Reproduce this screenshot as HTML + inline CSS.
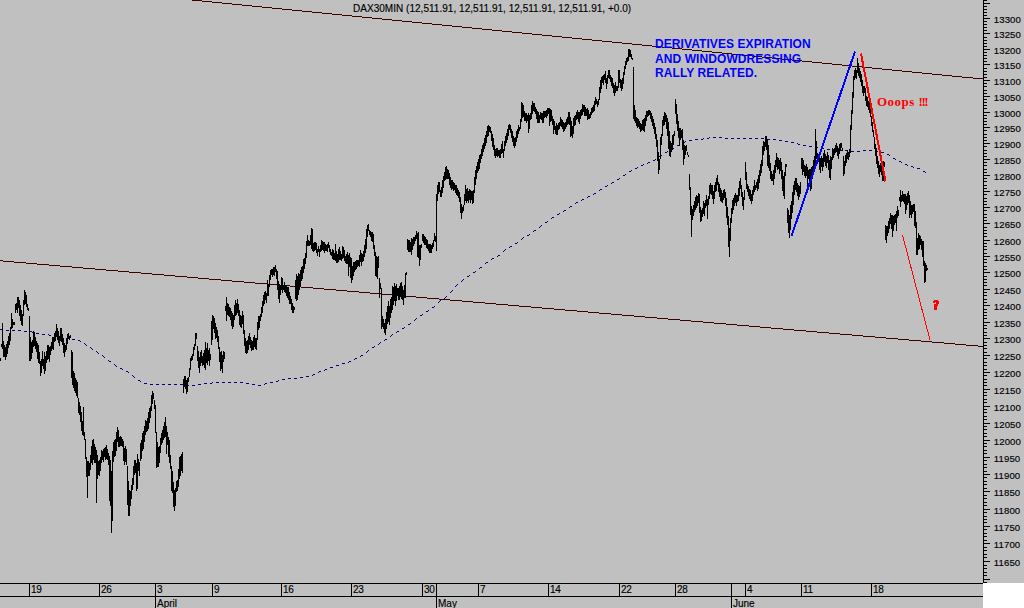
<!DOCTYPE html>
<html><head><meta charset="utf-8"><title>DAX30MIN</title>
<style>html,body{margin:0;padding:0;background:#c0c0c0;}body{width:1024px;height:608px;overflow:hidden;position:relative;font-family:"Liberation Sans",sans-serif;}</style>
</head><body>
<svg width="1024" height="608" viewBox="0 0 1024 608" style="position:absolute;left:0;top:0"><rect x="0" y="0" width="1024" height="608" fill="#c0c0c0"/><rect x="983" y="583" width="41" height="25" fill="#ffffff"/><g fill="#400000" shape-rendering="crispEdges"><rect x="192" y="0" width="10" height="1"/><rect x="202" y="1" width="10" height="1"/><rect x="212" y="2" width="10" height="1"/><rect x="222" y="3" width="10" height="1"/><rect x="232" y="4" width="10" height="1"/><rect x="242" y="5" width="10" height="1"/><rect x="252" y="6" width="10" height="1"/><rect x="262" y="7" width="10" height="1"/><rect x="272" y="8" width="10" height="1"/><rect x="282" y="9" width="10" height="1"/><rect x="292" y="10" width="10" height="1"/><rect x="302" y="11" width="10" height="1"/><rect x="312" y="12" width="10" height="1"/><rect x="322" y="13" width="10" height="1"/><rect x="332" y="14" width="10" height="1"/><rect x="342" y="15" width="10" height="1"/><rect x="352" y="16" width="10" height="1"/><rect x="362" y="17" width="10" height="1"/><rect x="372" y="18" width="10" height="1"/><rect x="382" y="19" width="10" height="1"/><rect x="392" y="20" width="10" height="1"/><rect x="402" y="21" width="10" height="1"/><rect x="412" y="22" width="10" height="1"/><rect x="422" y="23" width="10" height="1"/><rect x="432" y="24" width="10" height="1"/><rect x="442" y="25" width="10" height="1"/><rect x="452" y="26" width="10" height="1"/><rect x="462" y="27" width="10" height="1"/><rect x="472" y="28" width="10" height="1"/><rect x="482" y="29" width="10" height="1"/><rect x="492" y="30" width="10" height="1"/><rect x="502" y="31" width="10" height="1"/><rect x="512" y="32" width="10" height="1"/><rect x="522" y="33" width="10" height="1"/><rect x="532" y="34" width="10" height="1"/><rect x="542" y="35" width="10" height="1"/><rect x="552" y="36" width="10" height="1"/><rect x="562" y="37" width="10" height="1"/><rect x="572" y="38" width="10" height="1"/><rect x="582" y="39" width="10" height="1"/><rect x="592" y="40" width="10" height="1"/><rect x="602" y="41" width="10" height="1"/><rect x="612" y="42" width="10" height="1"/><rect x="622" y="43" width="10" height="1"/><rect x="632" y="44" width="10" height="1"/><rect x="642" y="45" width="10" height="1"/><rect x="652" y="46" width="10" height="1"/><rect x="662" y="47" width="10" height="1"/><rect x="672" y="48" width="10" height="1"/><rect x="682" y="49" width="10" height="1"/><rect x="692" y="50" width="10" height="1"/><rect x="702" y="51" width="10" height="1"/><rect x="712" y="52" width="10" height="1"/><rect x="722" y="53" width="10" height="1"/><rect x="732" y="54" width="10" height="1"/><rect x="742" y="55" width="10" height="1"/><rect x="752" y="56" width="10" height="1"/><rect x="762" y="57" width="10" height="1"/><rect x="772" y="58" width="10" height="1"/><rect x="782" y="59" width="10" height="1"/><rect x="792" y="60" width="10" height="1"/><rect x="802" y="61" width="10" height="1"/><rect x="812" y="62" width="10" height="1"/><rect x="822" y="63" width="10" height="1"/><rect x="832" y="64" width="10" height="1"/><rect x="842" y="65" width="10" height="1"/><rect x="852" y="66" width="10" height="1"/><rect x="862" y="67" width="10" height="1"/><rect x="872" y="68" width="10" height="1"/><rect x="882" y="69" width="10" height="1"/><rect x="892" y="70" width="10" height="1"/><rect x="902" y="71" width="10" height="1"/><rect x="912" y="72" width="10" height="1"/><rect x="922" y="73" width="10" height="1"/><rect x="932" y="74" width="10" height="1"/><rect x="942" y="75" width="10" height="1"/><rect x="952" y="76" width="10" height="1"/><rect x="962" y="77" width="11" height="1"/><rect x="973" y="78" width="10" height="1"/><rect x="0" y="260" width="3" height="1"/><rect x="3" y="261" width="11" height="1"/><rect x="14" y="262" width="12" height="1"/><rect x="26" y="263" width="11" height="1"/><rect x="37" y="264" width="12" height="1"/><rect x="49" y="265" width="11" height="1"/><rect x="60" y="266" width="12" height="1"/><rect x="72" y="267" width="11" height="1"/><rect x="83" y="268" width="12" height="1"/><rect x="95" y="269" width="11" height="1"/><rect x="106" y="270" width="12" height="1"/><rect x="118" y="271" width="11" height="1"/><rect x="129" y="272" width="12" height="1"/><rect x="141" y="273" width="11" height="1"/><rect x="152" y="274" width="12" height="1"/><rect x="164" y="275" width="11" height="1"/><rect x="175" y="276" width="12" height="1"/><rect x="187" y="277" width="11" height="1"/><rect x="198" y="278" width="11" height="1"/><rect x="209" y="279" width="12" height="1"/><rect x="221" y="280" width="11" height="1"/><rect x="232" y="281" width="12" height="1"/><rect x="244" y="282" width="11" height="1"/><rect x="255" y="283" width="12" height="1"/><rect x="267" y="284" width="11" height="1"/><rect x="278" y="285" width="12" height="1"/><rect x="290" y="286" width="11" height="1"/><rect x="301" y="287" width="12" height="1"/><rect x="313" y="288" width="11" height="1"/><rect x="324" y="289" width="12" height="1"/><rect x="336" y="290" width="11" height="1"/><rect x="347" y="291" width="12" height="1"/><rect x="359" y="292" width="11" height="1"/><rect x="370" y="293" width="12" height="1"/><rect x="382" y="294" width="11" height="1"/><rect x="393" y="295" width="11" height="1"/><rect x="404" y="296" width="12" height="1"/><rect x="416" y="297" width="11" height="1"/><rect x="427" y="298" width="12" height="1"/><rect x="439" y="299" width="11" height="1"/><rect x="450" y="300" width="12" height="1"/><rect x="462" y="301" width="11" height="1"/><rect x="473" y="302" width="12" height="1"/><rect x="485" y="303" width="11" height="1"/><rect x="496" y="304" width="12" height="1"/><rect x="508" y="305" width="11" height="1"/><rect x="519" y="306" width="12" height="1"/><rect x="531" y="307" width="11" height="1"/><rect x="542" y="308" width="12" height="1"/><rect x="554" y="309" width="11" height="1"/><rect x="565" y="310" width="12" height="1"/><rect x="577" y="311" width="11" height="1"/><rect x="588" y="312" width="11" height="1"/><rect x="599" y="313" width="12" height="1"/><rect x="611" y="314" width="11" height="1"/><rect x="622" y="315" width="12" height="1"/><rect x="634" y="316" width="11" height="1"/><rect x="645" y="317" width="12" height="1"/><rect x="657" y="318" width="11" height="1"/><rect x="668" y="319" width="12" height="1"/><rect x="680" y="320" width="11" height="1"/><rect x="691" y="321" width="12" height="1"/><rect x="703" y="322" width="11" height="1"/><rect x="714" y="323" width="12" height="1"/><rect x="726" y="324" width="11" height="1"/><rect x="737" y="325" width="12" height="1"/><rect x="749" y="326" width="11" height="1"/><rect x="760" y="327" width="11" height="1"/><rect x="771" y="328" width="12" height="1"/><rect x="783" y="329" width="11" height="1"/><rect x="794" y="330" width="12" height="1"/><rect x="806" y="331" width="11" height="1"/><rect x="817" y="332" width="12" height="1"/><rect x="829" y="333" width="11" height="1"/><rect x="840" y="334" width="12" height="1"/><rect x="852" y="335" width="11" height="1"/><rect x="863" y="336" width="12" height="1"/><rect x="875" y="337" width="11" height="1"/><rect x="886" y="338" width="12" height="1"/><rect x="898" y="339" width="11" height="1"/><rect x="909" y="340" width="12" height="1"/><rect x="921" y="341" width="11" height="1"/><rect x="932" y="342" width="12" height="1"/><rect x="944" y="343" width="11" height="1"/><rect x="955" y="344" width="11" height="1"/><rect x="966" y="345" width="12" height="1"/><rect x="978" y="346" width="5" height="1"/></g><g fill="#000080" shape-rendering="crispEdges"><rect x="0" y="329" width="1" height="1"/><rect x="1" y="329" width="1" height="1"/><rect x="2" y="329" width="1" height="1"/><rect x="6" y="330" width="1" height="1"/><rect x="7" y="330" width="1" height="1"/><rect x="8" y="330" width="1" height="1"/><rect x="12" y="330" width="1" height="1"/><rect x="13" y="330" width="1" height="1"/><rect x="14" y="330" width="1" height="1"/><rect x="18" y="330" width="1" height="1"/><rect x="19" y="330" width="1" height="1"/><rect x="20" y="330" width="1" height="1"/><rect x="24" y="331" width="1" height="1"/><rect x="25" y="331" width="1" height="1"/><rect x="26" y="331" width="1" height="1"/><rect x="30" y="331" width="1" height="1"/><rect x="31" y="331" width="1" height="1"/><rect x="32" y="332" width="1" height="1"/><rect x="36" y="333" width="1" height="1"/><rect x="37" y="333" width="1" height="1"/><rect x="38" y="333" width="1" height="1"/><rect x="42" y="334" width="1" height="1"/><rect x="43" y="334" width="1" height="1"/><rect x="44" y="334" width="1" height="1"/><rect x="48" y="334" width="1" height="1"/><rect x="49" y="335" width="1" height="1"/><rect x="50" y="335" width="1" height="1"/><rect x="54" y="335" width="1" height="1"/><rect x="55" y="335" width="1" height="1"/><rect x="56" y="335" width="1" height="1"/><rect x="60" y="336" width="1" height="1"/><rect x="61" y="336" width="1" height="1"/><rect x="62" y="337" width="1" height="1"/><rect x="66" y="338" width="1" height="1"/><rect x="67" y="338" width="1" height="1"/><rect x="68" y="338" width="1" height="1"/><rect x="72" y="339" width="1" height="1"/><rect x="73" y="339" width="1" height="1"/><rect x="74" y="339" width="1" height="1"/><rect x="78" y="340" width="1" height="1"/><rect x="79" y="340" width="1" height="1"/><rect x="80" y="341" width="1" height="1"/><rect x="84" y="343" width="1" height="1"/><rect x="85" y="344" width="1" height="1"/><rect x="86" y="345" width="1" height="1"/><rect x="90" y="347" width="1" height="1"/><rect x="91" y="348" width="1" height="1"/><rect x="92" y="349" width="1" height="1"/><rect x="96" y="351" width="1" height="1"/><rect x="97" y="352" width="1" height="1"/><rect x="98" y="353" width="1" height="1"/><rect x="102" y="355" width="1" height="1"/><rect x="103" y="356" width="1" height="1"/><rect x="104" y="357" width="1" height="1"/><rect x="108" y="360" width="1" height="1"/><rect x="109" y="361" width="1" height="1"/><rect x="110" y="361" width="1" height="1"/><rect x="114" y="364" width="1" height="1"/><rect x="115" y="365" width="1" height="1"/><rect x="116" y="366" width="1" height="1"/><rect x="120" y="368" width="1" height="1"/><rect x="121" y="368" width="1" height="1"/><rect x="122" y="369" width="1" height="1"/><rect x="126" y="371" width="1" height="1"/><rect x="127" y="371" width="1" height="1"/><rect x="128" y="372" width="1" height="1"/><rect x="132" y="375" width="1" height="1"/><rect x="133" y="376" width="1" height="1"/><rect x="134" y="377" width="1" height="1"/><rect x="138" y="380" width="1" height="1"/><rect x="139" y="380" width="1" height="1"/><rect x="140" y="381" width="1" height="1"/><rect x="144" y="383" width="1" height="1"/><rect x="145" y="383" width="1" height="1"/><rect x="146" y="383" width="1" height="1"/><rect x="150" y="384" width="1" height="1"/><rect x="151" y="384" width="1" height="1"/><rect x="152" y="384" width="1" height="1"/><rect x="156" y="384" width="1" height="1"/><rect x="157" y="384" width="1" height="1"/><rect x="158" y="384" width="1" height="1"/><rect x="162" y="384" width="1" height="1"/><rect x="163" y="384" width="1" height="1"/><rect x="164" y="384" width="1" height="1"/><rect x="168" y="384" width="1" height="1"/><rect x="169" y="384" width="1" height="1"/><rect x="170" y="384" width="1" height="1"/><rect x="174" y="384" width="1" height="1"/><rect x="175" y="384" width="1" height="1"/><rect x="176" y="384" width="1" height="1"/><rect x="180" y="384" width="1" height="1"/><rect x="181" y="384" width="1" height="1"/><rect x="182" y="384" width="1" height="1"/><rect x="186" y="385" width="1" height="1"/><rect x="187" y="385" width="1" height="1"/><rect x="188" y="385" width="1" height="1"/><rect x="192" y="385" width="1" height="1"/><rect x="193" y="385" width="1" height="1"/><rect x="194" y="385" width="1" height="1"/><rect x="198" y="384" width="1" height="1"/><rect x="199" y="384" width="1" height="1"/><rect x="200" y="384" width="1" height="1"/><rect x="204" y="383" width="1" height="1"/><rect x="205" y="383" width="1" height="1"/><rect x="206" y="383" width="1" height="1"/><rect x="210" y="383" width="1" height="1"/><rect x="211" y="383" width="1" height="1"/><rect x="212" y="382" width="1" height="1"/><rect x="216" y="382" width="1" height="1"/><rect x="217" y="382" width="1" height="1"/><rect x="218" y="382" width="1" height="1"/><rect x="222" y="382" width="1" height="1"/><rect x="223" y="382" width="1" height="1"/><rect x="224" y="382" width="1" height="1"/><rect x="228" y="382" width="1" height="1"/><rect x="229" y="382" width="1" height="1"/><rect x="230" y="382" width="1" height="1"/><rect x="234" y="382" width="1" height="1"/><rect x="235" y="382" width="1" height="1"/><rect x="236" y="382" width="1" height="1"/><rect x="240" y="382" width="1" height="1"/><rect x="241" y="382" width="1" height="1"/><rect x="242" y="382" width="1" height="1"/><rect x="246" y="383" width="1" height="1"/><rect x="247" y="383" width="1" height="1"/><rect x="248" y="383" width="1" height="1"/><rect x="252" y="384" width="1" height="1"/><rect x="253" y="384" width="1" height="1"/><rect x="254" y="384" width="1" height="1"/><rect x="258" y="385" width="1" height="1"/><rect x="259" y="385" width="1" height="1"/><rect x="260" y="385" width="1" height="1"/><rect x="264" y="384" width="1" height="1"/><rect x="265" y="383" width="1" height="1"/><rect x="266" y="383" width="1" height="1"/><rect x="270" y="382" width="1" height="1"/><rect x="271" y="382" width="1" height="1"/><rect x="272" y="382" width="1" height="1"/><rect x="276" y="381" width="1" height="1"/><rect x="277" y="381" width="1" height="1"/><rect x="278" y="380" width="1" height="1"/><rect x="282" y="379" width="1" height="1"/><rect x="283" y="379" width="1" height="1"/><rect x="284" y="379" width="1" height="1"/><rect x="288" y="378" width="1" height="1"/><rect x="289" y="378" width="1" height="1"/><rect x="290" y="378" width="1" height="1"/><rect x="294" y="378" width="1" height="1"/><rect x="295" y="378" width="1" height="1"/><rect x="296" y="378" width="1" height="1"/><rect x="300" y="377" width="1" height="1"/><rect x="301" y="377" width="1" height="1"/><rect x="302" y="377" width="1" height="1"/><rect x="306" y="376" width="1" height="1"/><rect x="307" y="376" width="1" height="1"/><rect x="308" y="376" width="1" height="1"/><rect x="312" y="375" width="1" height="1"/><rect x="313" y="374" width="1" height="1"/><rect x="314" y="374" width="1" height="1"/><rect x="318" y="372" width="1" height="1"/><rect x="319" y="371" width="1" height="1"/><rect x="320" y="371" width="1" height="1"/><rect x="324" y="370" width="1" height="1"/><rect x="325" y="369" width="1" height="1"/><rect x="326" y="369" width="1" height="1"/><rect x="330" y="367" width="1" height="1"/><rect x="331" y="367" width="1" height="1"/><rect x="332" y="367" width="1" height="1"/><rect x="336" y="365" width="1" height="1"/><rect x="337" y="365" width="1" height="1"/><rect x="338" y="365" width="1" height="1"/><rect x="342" y="363" width="1" height="1"/><rect x="343" y="363" width="1" height="1"/><rect x="344" y="363" width="1" height="1"/><rect x="348" y="362" width="1" height="1"/><rect x="349" y="361" width="1" height="1"/><rect x="350" y="361" width="1" height="1"/><rect x="354" y="359" width="1" height="1"/><rect x="355" y="358" width="1" height="1"/><rect x="356" y="358" width="1" height="1"/><rect x="360" y="356" width="1" height="1"/><rect x="361" y="355" width="1" height="1"/><rect x="362" y="355" width="1" height="1"/><rect x="366" y="352" width="1" height="1"/><rect x="367" y="351" width="1" height="1"/><rect x="368" y="350" width="1" height="1"/><rect x="372" y="347" width="1" height="1"/><rect x="373" y="347" width="1" height="1"/><rect x="374" y="346" width="1" height="1"/><rect x="378" y="344" width="1" height="1"/><rect x="379" y="343" width="1" height="1"/><rect x="380" y="342" width="1" height="1"/><rect x="384" y="340" width="1" height="1"/><rect x="385" y="339" width="1" height="1"/><rect x="386" y="339" width="1" height="1"/><rect x="390" y="336" width="1" height="1"/><rect x="391" y="335" width="1" height="1"/><rect x="392" y="334" width="1" height="1"/><rect x="396" y="332" width="1" height="1"/><rect x="397" y="331" width="1" height="1"/><rect x="398" y="331" width="1" height="1"/><rect x="402" y="328" width="1" height="1"/><rect x="403" y="328" width="1" height="1"/><rect x="404" y="327" width="1" height="1"/><rect x="408" y="324" width="1" height="1"/><rect x="409" y="324" width="1" height="1"/><rect x="410" y="323" width="1" height="1"/><rect x="414" y="320" width="1" height="1"/><rect x="415" y="319" width="1" height="1"/><rect x="416" y="318" width="1" height="1"/><rect x="420" y="315" width="1" height="1"/><rect x="421" y="315" width="1" height="1"/><rect x="422" y="314" width="1" height="1"/><rect x="426" y="311" width="1" height="1"/><rect x="427" y="311" width="1" height="1"/><rect x="428" y="310" width="1" height="1"/><rect x="432" y="307" width="1" height="1"/><rect x="433" y="307" width="1" height="1"/><rect x="434" y="306" width="1" height="1"/><rect x="438" y="302" width="1" height="1"/><rect x="439" y="301" width="1" height="1"/><rect x="440" y="300" width="1" height="1"/><rect x="444" y="298" width="1" height="1"/><rect x="445" y="297" width="1" height="1"/><rect x="446" y="296" width="1" height="1"/><rect x="450" y="292" width="1" height="1"/><rect x="451" y="291" width="1" height="1"/><rect x="452" y="290" width="1" height="1"/><rect x="455" y="286" width="1" height="1"/><rect x="456" y="285" width="1" height="1"/><rect x="457" y="284" width="1" height="1"/><rect x="461" y="281" width="1" height="1"/><rect x="462" y="280" width="1" height="1"/><rect x="463" y="279" width="1" height="1"/><rect x="467" y="276" width="1" height="1"/><rect x="468" y="276" width="1" height="1"/><rect x="469" y="275" width="1" height="1"/><rect x="473" y="272" width="1" height="1"/><rect x="474" y="272" width="1" height="1"/><rect x="475" y="271" width="1" height="1"/><rect x="479" y="268" width="1" height="1"/><rect x="480" y="267" width="1" height="1"/><rect x="481" y="267" width="1" height="1"/><rect x="485" y="263" width="1" height="1"/><rect x="486" y="262" width="1" height="1"/><rect x="487" y="262" width="1" height="1"/><rect x="491" y="259" width="1" height="1"/><rect x="492" y="258" width="1" height="1"/><rect x="493" y="258" width="1" height="1"/><rect x="497" y="256" width="1" height="1"/><rect x="498" y="255" width="1" height="1"/><rect x="499" y="255" width="1" height="1"/><rect x="503" y="251" width="1" height="1"/><rect x="504" y="250" width="1" height="1"/><rect x="505" y="249" width="1" height="1"/><rect x="509" y="247" width="1" height="1"/><rect x="510" y="246" width="1" height="1"/><rect x="511" y="246" width="1" height="1"/><rect x="515" y="243" width="1" height="1"/><rect x="516" y="243" width="1" height="1"/><rect x="517" y="242" width="1" height="1"/><rect x="521" y="239" width="1" height="1"/><rect x="522" y="238" width="1" height="1"/><rect x="523" y="237" width="1" height="1"/><rect x="527" y="235" width="1" height="1"/><rect x="528" y="235" width="1" height="1"/><rect x="529" y="234" width="1" height="1"/><rect x="533" y="231" width="1" height="1"/><rect x="534" y="230" width="1" height="1"/><rect x="535" y="230" width="1" height="1"/><rect x="539" y="227" width="1" height="1"/><rect x="540" y="226" width="1" height="1"/><rect x="541" y="225" width="1" height="1"/><rect x="545" y="222" width="1" height="1"/><rect x="546" y="222" width="1" height="1"/><rect x="547" y="221" width="1" height="1"/><rect x="551" y="218" width="1" height="1"/><rect x="552" y="217" width="1" height="1"/><rect x="553" y="217" width="1" height="1"/><rect x="557" y="214" width="1" height="1"/><rect x="558" y="214" width="1" height="1"/><rect x="559" y="213" width="1" height="1"/><rect x="563" y="211" width="1" height="1"/><rect x="564" y="210" width="1" height="1"/><rect x="565" y="210" width="1" height="1"/><rect x="569" y="207" width="1" height="1"/><rect x="570" y="206" width="1" height="1"/><rect x="571" y="206" width="1" height="1"/><rect x="575" y="203" width="1" height="1"/><rect x="576" y="202" width="1" height="1"/><rect x="577" y="202" width="1" height="1"/><rect x="581" y="200" width="1" height="1"/><rect x="582" y="199" width="1" height="1"/><rect x="583" y="199" width="1" height="1"/><rect x="587" y="197" width="1" height="1"/><rect x="588" y="196" width="1" height="1"/><rect x="589" y="196" width="1" height="1"/><rect x="593" y="194" width="1" height="1"/><rect x="594" y="193" width="1" height="1"/><rect x="595" y="193" width="1" height="1"/><rect x="599" y="190" width="1" height="1"/><rect x="600" y="189" width="1" height="1"/><rect x="601" y="189" width="1" height="1"/><rect x="605" y="186" width="1" height="1"/><rect x="606" y="186" width="1" height="1"/><rect x="607" y="185" width="1" height="1"/><rect x="611" y="183" width="1" height="1"/><rect x="612" y="182" width="1" height="1"/><rect x="613" y="182" width="1" height="1"/><rect x="617" y="179" width="1" height="1"/><rect x="618" y="179" width="1" height="1"/><rect x="619" y="178" width="1" height="1"/><rect x="623" y="175" width="1" height="1"/><rect x="624" y="175" width="1" height="1"/><rect x="625" y="174" width="1" height="1"/><rect x="629" y="171" width="1" height="1"/><rect x="630" y="171" width="1" height="1"/><rect x="631" y="170" width="1" height="1"/><rect x="635" y="168" width="1" height="1"/><rect x="636" y="168" width="1" height="1"/><rect x="637" y="167" width="1" height="1"/><rect x="641" y="165" width="1" height="1"/><rect x="642" y="165" width="1" height="1"/><rect x="643" y="164" width="1" height="1"/><rect x="647" y="163" width="1" height="1"/><rect x="648" y="162" width="1" height="1"/><rect x="649" y="162" width="1" height="1"/><rect x="653" y="160" width="1" height="1"/><rect x="654" y="160" width="1" height="1"/><rect x="655" y="159" width="1" height="1"/><rect x="659" y="156" width="1" height="1"/><rect x="660" y="155" width="1" height="1"/><rect x="661" y="155" width="1" height="1"/><rect x="665" y="152" width="1" height="1"/><rect x="666" y="152" width="1" height="1"/><rect x="667" y="151" width="1" height="1"/><rect x="671" y="149" width="1" height="1"/><rect x="672" y="148" width="1" height="1"/><rect x="673" y="148" width="1" height="1"/><rect x="677" y="145" width="1" height="1"/><rect x="678" y="145" width="1" height="1"/><rect x="679" y="144" width="1" height="1"/><rect x="683" y="142" width="1" height="1"/><rect x="684" y="142" width="1" height="1"/><rect x="685" y="141" width="1" height="1"/><rect x="689" y="140" width="1" height="1"/><rect x="690" y="140" width="1" height="1"/><rect x="691" y="140" width="1" height="1"/><rect x="695" y="139" width="1" height="1"/><rect x="696" y="139" width="1" height="1"/><rect x="697" y="139" width="1" height="1"/><rect x="701" y="139" width="1" height="1"/><rect x="702" y="139" width="1" height="1"/><rect x="703" y="138" width="1" height="1"/><rect x="707" y="138" width="1" height="1"/><rect x="708" y="138" width="1" height="1"/><rect x="709" y="137" width="1" height="1"/><rect x="713" y="137" width="1" height="1"/><rect x="714" y="137" width="1" height="1"/><rect x="715" y="137" width="1" height="1"/><rect x="719" y="137" width="1" height="1"/><rect x="720" y="137" width="1" height="1"/><rect x="721" y="137" width="1" height="1"/><rect x="725" y="138" width="1" height="1"/><rect x="726" y="138" width="1" height="1"/><rect x="727" y="138" width="1" height="1"/><rect x="731" y="138" width="1" height="1"/><rect x="732" y="138" width="1" height="1"/><rect x="733" y="138" width="1" height="1"/><rect x="737" y="138" width="1" height="1"/><rect x="738" y="138" width="1" height="1"/><rect x="739" y="138" width="1" height="1"/><rect x="743" y="138" width="1" height="1"/><rect x="744" y="138" width="1" height="1"/><rect x="745" y="138" width="1" height="1"/><rect x="749" y="138" width="1" height="1"/><rect x="750" y="138" width="1" height="1"/><rect x="751" y="138" width="1" height="1"/><rect x="755" y="138" width="1" height="1"/><rect x="756" y="138" width="1" height="1"/><rect x="757" y="138" width="1" height="1"/><rect x="761" y="138" width="1" height="1"/><rect x="762" y="138" width="1" height="1"/><rect x="763" y="138" width="1" height="1"/><rect x="767" y="139" width="1" height="1"/><rect x="768" y="139" width="1" height="1"/><rect x="769" y="139" width="1" height="1"/><rect x="773" y="139" width="1" height="1"/><rect x="774" y="139" width="1" height="1"/><rect x="775" y="139" width="1" height="1"/><rect x="779" y="140" width="1" height="1"/><rect x="780" y="140" width="1" height="1"/><rect x="781" y="140" width="1" height="1"/><rect x="785" y="141" width="1" height="1"/><rect x="786" y="141" width="1" height="1"/><rect x="787" y="141" width="1" height="1"/><rect x="791" y="142" width="1" height="1"/><rect x="792" y="142" width="1" height="1"/><rect x="793" y="142" width="1" height="1"/><rect x="797" y="143" width="1" height="1"/><rect x="798" y="144" width="1" height="1"/><rect x="799" y="144" width="1" height="1"/><rect x="803" y="145" width="1" height="1"/><rect x="804" y="145" width="1" height="1"/><rect x="805" y="145" width="1" height="1"/><rect x="809" y="146" width="1" height="1"/><rect x="810" y="146" width="1" height="1"/><rect x="811" y="146" width="1" height="1"/><rect x="815" y="147" width="1" height="1"/><rect x="816" y="147" width="1" height="1"/><rect x="817" y="147" width="1" height="1"/><rect x="821" y="148" width="1" height="1"/><rect x="822" y="148" width="1" height="1"/><rect x="823" y="148" width="1" height="1"/><rect x="827" y="149" width="1" height="1"/><rect x="828" y="149" width="1" height="1"/><rect x="829" y="149" width="1" height="1"/><rect x="833" y="149" width="1" height="1"/><rect x="834" y="149" width="1" height="1"/><rect x="835" y="150" width="1" height="1"/><rect x="839" y="150" width="1" height="1"/><rect x="840" y="150" width="1" height="1"/><rect x="841" y="150" width="1" height="1"/><rect x="845" y="150" width="1" height="1"/><rect x="846" y="150" width="1" height="1"/><rect x="847" y="150" width="1" height="1"/><rect x="851" y="151" width="1" height="1"/><rect x="852" y="151" width="1" height="1"/><rect x="853" y="151" width="1" height="1"/><rect x="857" y="151" width="1" height="1"/><rect x="858" y="151" width="1" height="1"/><rect x="859" y="151" width="1" height="1"/><rect x="863" y="150" width="1" height="1"/><rect x="864" y="150" width="1" height="1"/><rect x="865" y="150" width="1" height="1"/><rect x="869" y="150" width="1" height="1"/><rect x="870" y="150" width="1" height="1"/><rect x="871" y="150" width="1" height="1"/><rect x="875" y="151" width="1" height="1"/><rect x="876" y="151" width="1" height="1"/><rect x="877" y="151" width="1" height="1"/><rect x="881" y="152" width="1" height="1"/><rect x="882" y="152" width="1" height="1"/><rect x="883" y="152" width="1" height="1"/><rect x="887" y="154" width="1" height="1"/><rect x="888" y="154" width="1" height="1"/><rect x="889" y="155" width="1" height="1"/><rect x="893" y="158" width="1" height="1"/><rect x="894" y="158" width="1" height="1"/><rect x="895" y="159" width="1" height="1"/><rect x="899" y="161" width="1" height="1"/><rect x="900" y="161" width="1" height="1"/><rect x="901" y="162" width="1" height="1"/><rect x="905" y="164" width="1" height="1"/><rect x="906" y="164" width="1" height="1"/><rect x="907" y="165" width="1" height="1"/><rect x="911" y="166" width="1" height="1"/><rect x="912" y="166" width="1" height="1"/><rect x="913" y="167" width="1" height="1"/><rect x="917" y="168" width="1" height="1"/><rect x="918" y="168" width="1" height="1"/><rect x="919" y="168" width="1" height="1"/><rect x="923" y="171" width="1" height="1"/><rect x="924" y="171" width="1" height="1"/><rect x="925" y="172" width="1" height="1"/></g><g fill="#000000" shape-rendering="crispEdges"><rect x="0" y="358" width="1" height="3"/><rect x="1" y="344" width="1" height="3"/><rect x="2" y="323" width="1" height="26"/><rect x="3" y="341" width="1" height="16"/><rect x="4" y="345" width="1" height="12"/><rect x="5" y="347" width="1" height="13"/><rect x="6" y="344" width="1" height="13"/><rect x="7" y="341" width="1" height="13"/><rect x="8" y="336" width="1" height="12"/><rect x="9" y="333" width="1" height="12"/><rect x="10" y="327" width="1" height="14"/><rect x="11" y="313" width="1" height="16"/><rect x="12" y="319" width="1" height="9"/><rect x="13" y="322" width="1" height="3"/><rect x="14" y="322" width="1" height="3"/><rect x="15" y="304" width="1" height="9"/><rect x="16" y="303" width="1" height="7"/><rect x="17" y="297" width="1" height="16"/><rect x="18" y="297" width="1" height="11"/><rect x="19" y="300" width="1" height="16"/><rect x="20" y="305" width="1" height="16"/><rect x="21" y="310" width="1" height="15"/><rect x="22" y="314" width="1" height="12"/><rect x="23" y="300" width="1" height="16"/><rect x="24" y="290" width="1" height="15"/><rect x="25" y="292" width="1" height="12"/><rect x="26" y="295" width="1" height="12"/><rect x="27" y="304" width="1" height="6"/><rect x="28" y="308" width="1" height="3"/><rect x="29" y="316" width="1" height="45"/><rect x="30" y="337" width="1" height="24"/><rect x="31" y="342" width="1" height="17"/><rect x="32" y="340" width="1" height="13"/><rect x="33" y="331" width="1" height="16"/><rect x="34" y="332" width="1" height="14"/><rect x="35" y="337" width="1" height="12"/><rect x="36" y="341" width="1" height="11"/><rect x="37" y="343" width="1" height="16"/><rect x="38" y="345" width="1" height="18"/><rect x="39" y="352" width="1" height="12"/><rect x="40" y="361" width="1" height="15"/><rect x="41" y="359" width="1" height="14"/><rect x="42" y="351" width="1" height="15"/><rect x="43" y="359" width="1" height="10"/><rect x="44" y="352" width="1" height="22"/><rect x="45" y="356" width="1" height="15"/><rect x="46" y="351" width="1" height="12"/><rect x="47" y="345" width="1" height="15"/><rect x="48" y="345" width="1" height="14"/><rect x="49" y="347" width="1" height="15"/><rect x="50" y="346" width="1" height="9"/><rect x="51" y="342" width="1" height="9"/><rect x="52" y="337" width="1" height="12"/><rect x="53" y="337" width="1" height="13"/><rect x="54" y="333" width="1" height="9"/><rect x="55" y="331" width="1" height="10"/><rect x="56" y="324" width="1" height="13"/><rect x="57" y="328" width="1" height="12"/><rect x="58" y="331" width="1" height="12"/><rect x="59" y="336" width="1" height="10"/><rect x="60" y="328" width="1" height="13"/><rect x="61" y="328" width="1" height="14"/><rect x="62" y="334" width="1" height="11"/><rect x="63" y="338" width="1" height="15"/><rect x="64" y="343" width="1" height="14"/><rect x="65" y="345" width="1" height="7"/><rect x="66" y="339" width="1" height="11"/><rect x="67" y="334" width="1" height="10"/><rect x="68" y="333" width="1" height="5"/><rect x="69" y="336" width="1" height="4"/><rect x="70" y="335" width="1" height="3"/><rect x="71" y="350" width="1" height="28"/><rect x="72" y="352" width="1" height="33"/><rect x="73" y="371" width="1" height="17"/><rect x="74" y="373" width="1" height="18"/><rect x="75" y="378" width="1" height="15"/><rect x="76" y="380" width="1" height="16"/><rect x="77" y="382" width="1" height="16"/><rect x="78" y="398" width="1" height="15"/><rect x="79" y="402" width="1" height="13"/><rect x="80" y="406" width="1" height="16"/><rect x="81" y="412" width="1" height="19"/><rect x="82" y="421" width="1" height="14"/><rect x="83" y="407" width="1" height="29"/><rect x="84" y="432" width="1" height="8"/><rect x="85" y="439" width="1" height="20"/><rect x="86" y="457" width="1" height="20"/><rect x="87" y="461" width="1" height="37"/><rect x="88" y="461" width="1" height="15"/><rect x="89" y="463" width="1" height="13"/><rect x="90" y="455" width="1" height="15"/><rect x="91" y="446" width="1" height="17"/><rect x="92" y="440" width="1" height="25"/><rect x="93" y="439" width="1" height="21"/><rect x="94" y="444" width="1" height="19"/><rect x="95" y="447" width="1" height="16"/><rect x="96" y="450" width="1" height="53"/><rect x="97" y="455" width="1" height="24"/><rect x="98" y="461" width="1" height="14"/><rect x="99" y="460" width="1" height="16"/><rect x="100" y="457" width="1" height="14"/><rect x="101" y="450" width="1" height="13"/><rect x="102" y="451" width="1" height="9"/><rect x="103" y="449" width="1" height="13"/><rect x="104" y="448" width="1" height="9"/><rect x="105" y="447" width="1" height="13"/><rect x="106" y="445" width="1" height="14"/><rect x="107" y="449" width="1" height="11"/><rect x="108" y="453" width="1" height="12"/><rect x="109" y="456" width="1" height="45"/><rect x="110" y="460" width="1" height="46"/><rect x="111" y="471" width="1" height="62"/><rect x="112" y="451" width="1" height="70"/><rect x="113" y="442" width="1" height="20"/><rect x="114" y="440" width="1" height="17"/><rect x="115" y="439" width="1" height="17"/><rect x="116" y="432" width="1" height="19"/><rect x="117" y="427" width="1" height="15"/><rect x="118" y="430" width="1" height="17"/><rect x="119" y="437" width="1" height="10"/><rect x="120" y="436" width="1" height="10"/><rect x="121" y="437" width="1" height="9"/><rect x="122" y="439" width="1" height="8"/><rect x="123" y="441" width="1" height="20"/><rect x="124" y="448" width="1" height="17"/><rect x="125" y="446" width="1" height="16"/><rect x="126" y="449" width="1" height="16"/><rect x="127" y="466" width="1" height="39"/><rect x="128" y="481" width="1" height="35"/><rect x="129" y="490" width="1" height="26"/><rect x="130" y="491" width="1" height="15"/><rect x="131" y="485" width="1" height="14"/><rect x="132" y="478" width="1" height="12"/><rect x="133" y="466" width="1" height="19"/><rect x="134" y="460" width="1" height="15"/><rect x="135" y="460" width="1" height="13"/><rect x="136" y="463" width="1" height="28"/><rect x="137" y="454" width="1" height="35"/><rect x="138" y="459" width="1" height="12"/><rect x="139" y="462" width="1" height="14"/><rect x="140" y="443" width="1" height="18"/><rect x="141" y="440" width="1" height="19"/><rect x="142" y="433" width="1" height="18"/><rect x="143" y="431" width="1" height="18"/><rect x="144" y="426" width="1" height="16"/><rect x="145" y="420" width="1" height="15"/><rect x="146" y="421" width="1" height="11"/><rect x="147" y="418" width="1" height="13"/><rect x="148" y="412" width="1" height="17"/><rect x="149" y="408" width="1" height="15"/><rect x="150" y="406" width="1" height="12"/><rect x="151" y="395" width="1" height="16"/><rect x="152" y="391" width="1" height="13"/><rect x="153" y="393" width="1" height="6"/><rect x="154" y="400" width="1" height="9"/><rect x="155" y="405" width="1" height="28"/><rect x="156" y="432" width="1" height="36"/><rect x="157" y="442" width="1" height="25"/><rect x="158" y="447" width="1" height="20"/><rect x="159" y="446" width="1" height="17"/><rect x="160" y="438" width="1" height="15"/><rect x="161" y="433" width="1" height="12"/><rect x="162" y="430" width="1" height="13"/><rect x="163" y="426" width="1" height="14"/><rect x="164" y="422" width="1" height="16"/><rect x="165" y="417" width="1" height="20"/><rect x="166" y="426" width="1" height="28"/><rect x="167" y="432" width="1" height="13"/><rect x="168" y="437" width="1" height="20"/><rect x="169" y="440" width="1" height="23"/><rect x="170" y="455" width="1" height="14"/><rect x="171" y="466" width="1" height="25"/><rect x="172" y="471" width="1" height="22"/><rect x="173" y="482" width="1" height="25"/><rect x="174" y="490" width="1" height="21"/><rect x="175" y="488" width="1" height="18"/><rect x="176" y="481" width="1" height="11"/><rect x="177" y="480" width="1" height="11"/><rect x="178" y="469" width="1" height="18"/><rect x="179" y="457" width="1" height="22"/><rect x="180" y="456" width="1" height="20"/><rect x="181" y="454" width="1" height="17"/><rect x="182" y="452" width="1" height="21"/><rect x="183" y="379" width="1" height="14"/><rect x="184" y="376" width="1" height="11"/><rect x="185" y="376" width="1" height="13"/><rect x="186" y="380" width="1" height="14"/><rect x="187" y="378" width="1" height="14"/><rect x="188" y="377" width="1" height="5"/><rect x="189" y="368" width="1" height="9"/><rect x="190" y="358" width="1" height="12"/><rect x="191" y="356" width="1" height="5"/><rect x="192" y="354" width="1" height="6"/><rect x="193" y="347" width="1" height="9"/><rect x="194" y="344" width="1" height="6"/><rect x="195" y="333" width="1" height="13"/><rect x="196" y="333" width="1" height="6"/><rect x="197" y="346" width="1" height="15"/><rect x="198" y="351" width="1" height="17"/><rect x="199" y="357" width="1" height="16"/><rect x="200" y="352" width="1" height="14"/><rect x="201" y="350" width="1" height="13"/><rect x="202" y="356" width="1" height="10"/><rect x="203" y="353" width="1" height="12"/><rect x="204" y="350" width="1" height="18"/><rect x="205" y="342" width="1" height="28"/><rect x="206" y="348" width="1" height="15"/><rect x="207" y="343" width="1" height="22"/><rect x="208" y="350" width="1" height="11"/><rect x="209" y="348" width="1" height="18"/><rect x="210" y="354" width="1" height="6"/><rect x="211" y="321" width="1" height="24"/><rect x="212" y="315" width="1" height="25"/><rect x="213" y="316" width="1" height="13"/><rect x="214" y="318" width="1" height="15"/><rect x="215" y="323" width="1" height="16"/><rect x="216" y="327" width="1" height="11"/><rect x="217" y="330" width="1" height="12"/><rect x="218" y="336" width="1" height="13"/><rect x="219" y="347" width="1" height="15"/><rect x="220" y="352" width="1" height="19"/><rect x="221" y="351" width="1" height="18"/><rect x="222" y="355" width="1" height="18"/><rect x="223" y="351" width="1" height="11"/><rect x="224" y="352" width="1" height="7"/><rect x="225" y="306" width="1" height="5"/><rect x="226" y="297" width="1" height="24"/><rect x="227" y="303" width="1" height="12"/><rect x="228" y="304" width="1" height="12"/><rect x="229" y="307" width="1" height="10"/><rect x="230" y="308" width="1" height="12"/><rect x="231" y="311" width="1" height="15"/><rect x="232" y="313" width="1" height="16"/><rect x="233" y="315" width="1" height="12"/><rect x="234" y="305" width="1" height="15"/><rect x="235" y="300" width="1" height="16"/><rect x="236" y="303" width="1" height="12"/><rect x="237" y="299" width="1" height="14"/><rect x="238" y="304" width="1" height="12"/><rect x="239" y="310" width="1" height="15"/><rect x="240" y="315" width="1" height="12"/><rect x="241" y="316" width="1" height="12"/><rect x="242" y="311" width="1" height="13"/><rect x="243" y="315" width="1" height="19"/><rect x="244" y="330" width="1" height="16"/><rect x="245" y="338" width="1" height="15"/><rect x="246" y="341" width="1" height="13"/><rect x="247" y="340" width="1" height="13"/><rect x="248" y="336" width="1" height="14"/><rect x="249" y="333" width="1" height="12"/><rect x="250" y="337" width="1" height="11"/><rect x="251" y="340" width="1" height="11"/><rect x="252" y="341" width="1" height="9"/><rect x="253" y="337" width="1" height="13"/><rect x="254" y="335" width="1" height="12"/><rect x="255" y="338" width="1" height="11"/><rect x="256" y="338" width="1" height="12"/><rect x="257" y="322" width="1" height="18"/><rect x="258" y="316" width="1" height="14"/><rect x="259" y="316" width="1" height="12"/><rect x="260" y="314" width="1" height="7"/><rect x="261" y="307" width="1" height="10"/><rect x="262" y="301" width="1" height="12"/><rect x="263" y="295" width="1" height="11"/><rect x="264" y="292" width="1" height="12"/><rect x="265" y="291" width="1" height="9"/><rect x="266" y="293" width="1" height="10"/><rect x="267" y="280" width="1" height="16"/><rect x="268" y="284" width="1" height="12"/><rect x="269" y="275" width="1" height="12"/><rect x="270" y="270" width="1" height="10"/><rect x="271" y="269" width="1" height="6"/><rect x="272" y="269" width="1" height="8"/><rect x="273" y="267" width="1" height="8"/><rect x="274" y="267" width="1" height="9"/><rect x="275" y="265" width="1" height="7"/><rect x="276" y="269" width="1" height="10"/><rect x="277" y="271" width="1" height="19"/><rect x="278" y="281" width="1" height="18"/><rect x="279" y="284" width="1" height="19"/><rect x="280" y="285" width="1" height="10"/><rect x="281" y="277" width="1" height="13"/><rect x="282" y="278" width="1" height="15"/><rect x="283" y="285" width="1" height="5"/><rect x="284" y="282" width="1" height="10"/><rect x="285" y="285" width="1" height="8"/><rect x="286" y="285" width="1" height="11"/><rect x="287" y="287" width="1" height="11"/><rect x="288" y="287" width="1" height="13"/><rect x="289" y="292" width="1" height="12"/><rect x="290" y="296" width="1" height="8"/><rect x="291" y="299" width="1" height="11"/><rect x="292" y="303" width="1" height="10"/><rect x="293" y="306" width="1" height="7"/><rect x="294" y="307" width="1" height="3"/><rect x="295" y="280" width="1" height="19"/><rect x="296" y="274" width="1" height="27"/><rect x="297" y="276" width="1" height="24"/><rect x="298" y="273" width="1" height="22"/><rect x="299" y="274" width="1" height="16"/><rect x="300" y="270" width="1" height="16"/><rect x="301" y="267" width="1" height="14"/><rect x="302" y="266" width="1" height="13"/><rect x="303" y="259" width="1" height="14"/><rect x="304" y="258" width="1" height="11"/><rect x="305" y="253" width="1" height="11"/><rect x="306" y="241" width="1" height="17"/><rect x="307" y="235" width="1" height="11"/><rect x="308" y="240" width="1" height="6"/><rect x="309" y="241" width="1" height="5"/><rect x="310" y="235" width="1" height="10"/><rect x="311" y="228" width="1" height="21"/><rect x="312" y="229" width="1" height="22"/><rect x="313" y="243" width="1" height="9"/><rect x="314" y="242" width="1" height="9"/><rect x="315" y="242" width="1" height="8"/><rect x="316" y="243" width="1" height="10"/><rect x="317" y="249" width="1" height="7"/><rect x="318" y="246" width="1" height="6"/><rect x="319" y="249" width="1" height="8"/><rect x="320" y="245" width="1" height="7"/><rect x="321" y="240" width="1" height="11"/><rect x="322" y="241" width="1" height="9"/><rect x="323" y="242" width="1" height="9"/><rect x="324" y="242" width="1" height="11"/><rect x="325" y="244" width="1" height="7"/><rect x="326" y="245" width="1" height="6"/><rect x="327" y="244" width="1" height="8"/><rect x="328" y="242" width="1" height="6"/><rect x="329" y="245" width="1" height="7"/><rect x="330" y="249" width="1" height="6"/><rect x="331" y="252" width="1" height="4"/><rect x="332" y="249" width="1" height="10"/><rect x="333" y="250" width="1" height="10"/><rect x="334" y="253" width="1" height="7"/><rect x="335" y="244" width="1" height="17"/><rect x="336" y="251" width="1" height="12"/><rect x="337" y="254" width="1" height="9"/><rect x="338" y="249" width="1" height="13"/><rect x="339" y="247" width="1" height="13"/><rect x="340" y="251" width="1" height="9"/><rect x="341" y="254" width="1" height="7"/><rect x="342" y="246" width="1" height="13"/><rect x="343" y="247" width="1" height="11"/><rect x="344" y="250" width="1" height="11"/><rect x="345" y="256" width="1" height="7"/><rect x="346" y="254" width="1" height="10"/><rect x="347" y="252" width="1" height="12"/><rect x="348" y="255" width="1" height="21"/><rect x="349" y="253" width="1" height="14"/><rect x="350" y="257" width="1" height="21"/><rect x="351" y="258" width="1" height="25"/><rect x="352" y="266" width="1" height="14"/><rect x="353" y="262" width="1" height="14"/><rect x="354" y="262" width="1" height="10"/><rect x="355" y="261" width="1" height="9"/><rect x="356" y="260" width="1" height="9"/><rect x="357" y="260" width="1" height="7"/><rect x="358" y="260" width="1" height="6"/><rect x="359" y="255" width="1" height="12"/><rect x="360" y="250" width="1" height="12"/><rect x="361" y="253" width="1" height="13"/><rect x="362" y="254" width="1" height="8"/><rect x="363" y="251" width="1" height="10"/><rect x="364" y="245" width="1" height="12"/><rect x="365" y="239" width="1" height="14"/><rect x="366" y="229" width="1" height="20"/><rect x="367" y="225" width="1" height="12"/><rect x="368" y="224" width="1" height="7"/><rect x="369" y="230" width="1" height="5"/><rect x="370" y="231" width="1" height="6"/><rect x="371" y="232" width="1" height="9"/><rect x="372" y="232" width="1" height="10"/><rect x="373" y="234" width="1" height="15"/><rect x="374" y="245" width="1" height="11"/><rect x="375" y="252" width="1" height="24"/><rect x="376" y="256" width="1" height="21"/><rect x="377" y="257" width="1" height="22"/><rect x="378" y="256" width="1" height="12"/><rect x="379" y="278" width="1" height="20"/><rect x="380" y="283" width="1" height="6"/><rect x="381" y="288" width="1" height="41"/><rect x="382" y="316" width="1" height="11"/><rect x="383" y="319" width="1" height="10"/><rect x="384" y="323" width="1" height="10"/><rect x="385" y="319" width="1" height="16"/><rect x="386" y="312" width="1" height="17"/><rect x="387" y="306" width="1" height="18"/><rect x="388" y="301" width="1" height="21"/><rect x="389" y="306" width="1" height="19"/><rect x="390" y="299" width="1" height="19"/><rect x="391" y="297" width="1" height="16"/><rect x="392" y="286" width="1" height="24"/><rect x="393" y="287" width="1" height="18"/><rect x="394" y="283" width="1" height="18"/><rect x="395" y="286" width="1" height="20"/><rect x="396" y="284" width="1" height="17"/><rect x="397" y="288" width="1" height="7"/><rect x="398" y="288" width="1" height="12"/><rect x="399" y="286" width="1" height="14"/><rect x="400" y="283" width="1" height="14"/><rect x="401" y="282" width="1" height="17"/><rect x="402" y="286" width="1" height="14"/><rect x="403" y="290" width="1" height="15"/><rect x="404" y="285" width="1" height="13"/><rect x="405" y="273" width="1" height="25"/><rect x="406" y="272" width="1" height="3"/><rect x="407" y="239" width="1" height="11"/><rect x="408" y="240" width="1" height="12"/><rect x="409" y="240" width="1" height="12"/><rect x="410" y="242" width="1" height="10"/><rect x="411" y="238" width="1" height="17"/><rect x="412" y="239" width="1" height="11"/><rect x="413" y="237" width="1" height="9"/><rect x="414" y="237" width="1" height="7"/><rect x="415" y="235" width="1" height="6"/><rect x="416" y="231" width="1" height="8"/><rect x="417" y="233" width="1" height="24"/><rect x="418" y="232" width="1" height="26"/><rect x="419" y="245" width="1" height="21"/><rect x="420" y="245" width="1" height="15"/><rect x="421" y="244" width="1" height="4"/><rect x="422" y="234" width="1" height="7"/><rect x="423" y="234" width="1" height="9"/><rect x="424" y="236" width="1" height="9"/><rect x="425" y="237" width="1" height="8"/><rect x="426" y="239" width="1" height="9"/><rect x="427" y="240" width="1" height="9"/><rect x="428" y="244" width="1" height="7"/><rect x="429" y="244" width="1" height="9"/><rect x="430" y="244" width="1" height="9"/><rect x="431" y="245" width="1" height="8"/><rect x="432" y="243" width="1" height="6"/><rect x="433" y="240" width="1" height="7"/><rect x="434" y="233" width="1" height="8"/><rect x="435" y="236" width="1" height="6"/><rect x="436" y="194" width="1" height="57"/><rect x="437" y="185" width="1" height="16"/><rect x="438" y="182" width="1" height="12"/><rect x="439" y="182" width="1" height="10"/><rect x="440" y="190" width="1" height="7"/><rect x="441" y="187" width="1" height="10"/><rect x="442" y="180" width="1" height="13"/><rect x="443" y="176" width="1" height="12"/><rect x="444" y="172" width="1" height="9"/><rect x="445" y="167" width="1" height="13"/><rect x="446" y="166" width="1" height="13"/><rect x="447" y="169" width="1" height="10"/><rect x="448" y="170" width="1" height="9"/><rect x="449" y="173" width="1" height="12"/><rect x="450" y="177" width="1" height="11"/><rect x="451" y="180" width="1" height="10"/><rect x="452" y="180" width="1" height="9"/><rect x="453" y="182" width="1" height="9"/><rect x="454" y="183" width="1" height="7"/><rect x="455" y="185" width="1" height="8"/><rect x="456" y="185" width="1" height="10"/><rect x="457" y="188" width="1" height="8"/><rect x="458" y="190" width="1" height="8"/><rect x="459" y="192" width="1" height="10"/><rect x="460" y="197" width="1" height="16"/><rect x="461" y="204" width="1" height="15"/><rect x="462" y="207" width="1" height="6"/><rect x="463" y="205" width="1" height="6"/><rect x="464" y="194" width="1" height="11"/><rect x="465" y="185" width="1" height="16"/><rect x="466" y="189" width="1" height="14"/><rect x="467" y="188" width="1" height="13"/><rect x="468" y="191" width="1" height="12"/><rect x="469" y="189" width="1" height="11"/><rect x="470" y="190" width="1" height="13"/><rect x="471" y="191" width="1" height="9"/><rect x="472" y="191" width="1" height="13"/><rect x="473" y="190" width="1" height="13"/><rect x="474" y="177" width="1" height="16"/><rect x="475" y="170" width="1" height="15"/><rect x="476" y="166" width="1" height="13"/><rect x="477" y="162" width="1" height="11"/><rect x="478" y="159" width="1" height="12"/><rect x="479" y="155" width="1" height="14"/><rect x="480" y="154" width="1" height="9"/><rect x="481" y="149" width="1" height="10"/><rect x="482" y="145" width="1" height="11"/><rect x="483" y="143" width="1" height="9"/><rect x="484" y="138" width="1" height="11"/><rect x="485" y="135" width="1" height="11"/><rect x="486" y="131" width="1" height="12"/><rect x="487" y="126" width="1" height="11"/><rect x="488" y="125" width="1" height="11"/><rect x="489" y="126" width="1" height="6"/><rect x="490" y="127" width="1" height="6"/><rect x="491" y="131" width="1" height="10"/><rect x="492" y="134" width="1" height="13"/><rect x="493" y="138" width="1" height="12"/><rect x="494" y="145" width="1" height="11"/><rect x="495" y="149" width="1" height="9"/><rect x="496" y="148" width="1" height="8"/><rect x="497" y="148" width="1" height="9"/><rect x="498" y="150" width="1" height="6"/><rect x="499" y="150" width="1" height="8"/><rect x="500" y="149" width="1" height="9"/><rect x="501" y="144" width="1" height="10"/><rect x="502" y="141" width="1" height="12"/><rect x="503" y="149" width="1" height="9"/><rect x="504" y="141" width="1" height="10"/><rect x="505" y="136" width="1" height="10"/><rect x="506" y="133" width="1" height="10"/><rect x="507" y="129" width="1" height="11"/><rect x="508" y="125" width="1" height="11"/><rect x="509" y="124" width="1" height="6"/><rect x="510" y="125" width="1" height="8"/><rect x="511" y="129" width="1" height="9"/><rect x="512" y="131" width="1" height="11"/><rect x="513" y="136" width="1" height="10"/><rect x="514" y="138" width="1" height="10"/><rect x="515" y="137" width="1" height="9"/><rect x="516" y="131" width="1" height="11"/><rect x="517" y="129" width="1" height="9"/><rect x="518" y="125" width="1" height="9"/><rect x="519" y="127" width="1" height="4"/><rect x="520" y="119" width="1" height="10"/><rect x="521" y="102" width="1" height="20"/><rect x="522" y="103" width="1" height="15"/><rect x="523" y="105" width="1" height="12"/><rect x="524" y="111" width="1" height="10"/><rect x="525" y="113" width="1" height="8"/><rect x="526" y="113" width="1" height="10"/><rect x="527" y="115" width="1" height="6"/><rect x="528" y="113" width="1" height="20"/><rect x="529" y="115" width="1" height="14"/><rect x="530" y="113" width="1" height="7"/><rect x="531" y="105" width="1" height="14"/><rect x="532" y="101" width="1" height="13"/><rect x="533" y="103" width="1" height="8"/><rect x="534" y="103" width="1" height="9"/><rect x="535" y="107" width="1" height="7"/><rect x="536" y="109" width="1" height="10"/><rect x="537" y="111" width="1" height="12"/><rect x="538" y="112" width="1" height="11"/><rect x="539" y="115" width="1" height="8"/><rect x="540" y="112" width="1" height="7"/><rect x="541" y="113" width="1" height="7"/><rect x="542" y="113" width="1" height="10"/><rect x="543" y="111" width="1" height="12"/><rect x="544" y="111" width="1" height="7"/><rect x="545" y="111" width="1" height="6"/><rect x="546" y="110" width="1" height="8"/><rect x="547" y="108" width="1" height="8"/><rect x="548" y="108" width="1" height="6"/><rect x="549" y="108" width="1" height="18"/><rect x="550" y="109" width="1" height="13"/><rect x="551" y="110" width="1" height="11"/><rect x="552" y="116" width="1" height="9"/><rect x="553" y="119" width="1" height="15"/><rect x="554" y="121" width="1" height="9"/><rect x="555" y="126" width="1" height="8"/><rect x="556" y="123" width="1" height="12"/><rect x="557" y="125" width="1" height="10"/><rect x="558" y="123" width="1" height="7"/><rect x="559" y="122" width="1" height="7"/><rect x="560" y="117" width="1" height="9"/><rect x="561" y="119" width="1" height="8"/><rect x="562" y="120" width="1" height="9"/><rect x="563" y="122" width="1" height="10"/><rect x="564" y="123" width="1" height="8"/><rect x="565" y="122" width="1" height="7"/><rect x="566" y="119" width="1" height="8"/><rect x="567" y="117" width="1" height="8"/><rect x="568" y="112" width="1" height="12"/><rect x="569" y="112" width="1" height="13"/><rect x="570" y="117" width="1" height="20"/><rect x="571" y="121" width="1" height="15"/><rect x="572" y="126" width="1" height="12"/><rect x="573" y="118" width="1" height="16"/><rect x="574" y="116" width="1" height="10"/><rect x="575" y="115" width="1" height="10"/><rect x="576" y="112" width="1" height="8"/><rect x="577" y="110" width="1" height="9"/><rect x="578" y="112" width="1" height="10"/><rect x="579" y="112" width="1" height="12"/><rect x="580" y="110" width="1" height="9"/><rect x="581" y="109" width="1" height="7"/><rect x="582" y="104" width="1" height="11"/><rect x="583" y="105" width="1" height="7"/><rect x="584" y="105" width="1" height="11"/><rect x="585" y="107" width="1" height="9"/><rect x="586" y="109" width="1" height="7"/><rect x="587" y="108" width="1" height="12"/><rect x="588" y="110" width="1" height="9"/><rect x="589" y="114" width="1" height="5"/><rect x="590" y="112" width="1" height="6"/><rect x="591" y="108" width="1" height="7"/><rect x="592" y="107" width="1" height="6"/><rect x="593" y="105" width="1" height="7"/><rect x="594" y="101" width="1" height="10"/><rect x="595" y="97" width="1" height="8"/><rect x="596" y="99" width="1" height="5"/><rect x="597" y="101" width="1" height="6"/><rect x="598" y="99" width="1" height="6"/><rect x="599" y="87" width="1" height="13"/><rect x="600" y="80" width="1" height="13"/><rect x="601" y="77" width="1" height="12"/><rect x="602" y="76" width="1" height="7"/><rect x="603" y="75" width="1" height="10"/><rect x="604" y="74" width="1" height="6"/><rect x="605" y="71" width="1" height="12"/><rect x="606" y="78" width="1" height="11"/><rect x="607" y="75" width="1" height="9"/><rect x="608" y="70" width="1" height="8"/><rect x="609" y="70" width="1" height="9"/><rect x="610" y="75" width="1" height="7"/><rect x="611" y="77" width="1" height="9"/><rect x="612" y="78" width="1" height="10"/><rect x="613" y="83" width="1" height="10"/><rect x="614" y="85" width="1" height="11"/><rect x="615" y="82" width="1" height="11"/><rect x="616" y="86" width="1" height="5"/><rect x="617" y="86" width="1" height="5"/><rect x="618" y="70" width="1" height="18"/><rect x="619" y="70" width="1" height="13"/><rect x="620" y="79" width="1" height="9"/><rect x="621" y="80" width="1" height="11"/><rect x="622" y="78" width="1" height="11"/><rect x="623" y="72" width="1" height="12"/><rect x="624" y="66" width="1" height="9"/><rect x="625" y="61" width="1" height="8"/><rect x="626" y="58" width="1" height="7"/><rect x="627" y="57" width="1" height="5"/><rect x="628" y="49" width="1" height="12"/><rect x="629" y="49" width="1" height="8"/><rect x="630" y="50" width="1" height="7"/><rect x="631" y="54" width="1" height="5"/><rect x="632" y="58" width="1" height="2"/><rect x="633" y="67" width="1" height="52"/><rect x="634" y="105" width="1" height="16"/><rect x="635" y="110" width="1" height="13"/><rect x="636" y="117" width="1" height="9"/><rect x="637" y="118" width="1" height="10"/><rect x="638" y="119" width="1" height="8"/><rect x="639" y="121" width="1" height="8"/><rect x="640" y="123" width="1" height="9"/><rect x="641" y="124" width="1" height="7"/><rect x="642" y="120" width="1" height="10"/><rect x="643" y="119" width="1" height="12"/><rect x="644" y="118" width="1" height="14"/><rect x="645" y="115" width="1" height="11"/><rect x="646" y="111" width="1" height="10"/><rect x="647" y="111" width="1" height="6"/><rect x="648" y="110" width="1" height="6"/><rect x="649" y="110" width="1" height="5"/><rect x="650" y="111" width="1" height="8"/><rect x="651" y="113" width="1" height="9"/><rect x="652" y="116" width="1" height="10"/><rect x="653" y="119" width="1" height="10"/><rect x="654" y="123" width="1" height="11"/><rect x="655" y="127" width="1" height="12"/><rect x="656" y="134" width="1" height="13"/><rect x="657" y="140" width="1" height="21"/><rect x="658" y="152" width="1" height="22"/><rect x="659" y="159" width="1" height="11"/><rect x="660" y="137" width="1" height="22"/><rect x="661" y="134" width="1" height="11"/><rect x="662" y="120" width="1" height="16"/><rect x="663" y="116" width="1" height="10"/><rect x="664" y="112" width="1" height="13"/><rect x="665" y="113" width="1" height="9"/><rect x="666" y="115" width="1" height="14"/><rect x="667" y="118" width="1" height="18"/><rect x="668" y="122" width="1" height="27"/><rect x="669" y="131" width="1" height="25"/><rect x="670" y="141" width="1" height="16"/><rect x="671" y="143" width="1" height="9"/><rect x="672" y="135" width="1" height="15"/><rect x="673" y="134" width="1" height="11"/><rect x="674" y="131" width="1" height="5"/><rect x="675" y="99" width="1" height="15"/><rect x="676" y="104" width="1" height="20"/><rect x="677" y="114" width="1" height="17"/><rect x="678" y="121" width="1" height="17"/><rect x="679" y="128" width="1" height="18"/><rect x="680" y="128" width="1" height="12"/><rect x="681" y="130" width="1" height="8"/><rect x="682" y="129" width="1" height="21"/><rect x="683" y="140" width="1" height="25"/><rect x="684" y="145" width="1" height="14"/><rect x="685" y="146" width="1" height="9"/><rect x="686" y="145" width="1" height="6"/><rect x="687" y="152" width="1" height="3"/><rect x="688" y="155" width="1" height="2"/><rect x="689" y="174" width="1" height="16"/><rect x="690" y="187" width="1" height="28"/><rect x="691" y="206" width="1" height="31"/><rect x="692" y="209" width="1" height="11"/><rect x="693" y="205" width="1" height="11"/><rect x="694" y="201" width="1" height="11"/><rect x="695" y="197" width="1" height="13"/><rect x="696" y="195" width="1" height="13"/><rect x="697" y="196" width="1" height="10"/><rect x="698" y="193" width="1" height="10"/><rect x="699" y="194" width="1" height="19"/><rect x="700" y="207" width="1" height="15"/><rect x="701" y="210" width="1" height="11"/><rect x="702" y="208" width="1" height="9"/><rect x="703" y="201" width="1" height="13"/><rect x="704" y="203" width="1" height="13"/><rect x="705" y="200" width="1" height="8"/><rect x="706" y="195" width="1" height="11"/><rect x="707" y="199" width="1" height="20"/><rect x="708" y="196" width="1" height="9"/><rect x="709" y="185" width="1" height="14"/><rect x="710" y="183" width="1" height="11"/><rect x="711" y="185" width="1" height="10"/><rect x="712" y="185" width="1" height="14"/><rect x="713" y="191" width="1" height="13"/><rect x="714" y="185" width="1" height="14"/><rect x="715" y="182" width="1" height="10"/><rect x="716" y="178" width="1" height="13"/><rect x="717" y="175" width="1" height="10"/><rect x="718" y="182" width="1" height="10"/><rect x="719" y="184" width="1" height="13"/><rect x="720" y="188" width="1" height="13"/><rect x="721" y="190" width="1" height="12"/><rect x="722" y="193" width="1" height="10"/><rect x="723" y="190" width="1" height="10"/><rect x="724" y="189" width="1" height="9"/><rect x="725" y="192" width="1" height="14"/><rect x="726" y="198" width="1" height="20"/><rect x="727" y="207" width="1" height="18"/><rect x="728" y="216" width="1" height="31"/><rect x="729" y="228" width="1" height="29"/><rect x="730" y="218" width="1" height="23"/><rect x="731" y="208" width="1" height="15"/><rect x="732" y="200" width="1" height="14"/><rect x="733" y="198" width="1" height="12"/><rect x="734" y="195" width="1" height="11"/><rect x="735" y="193" width="1" height="10"/><rect x="736" y="195" width="1" height="11"/><rect x="737" y="195" width="1" height="7"/><rect x="738" y="188" width="1" height="13"/><rect x="739" y="181" width="1" height="15"/><rect x="740" y="178" width="1" height="11"/><rect x="741" y="185" width="1" height="12"/><rect x="742" y="192" width="1" height="14"/><rect x="743" y="197" width="1" height="13"/><rect x="744" y="190" width="1" height="10"/><rect x="745" y="162" width="1" height="18"/><rect x="746" y="172" width="1" height="17"/><rect x="747" y="184" width="1" height="8"/><rect x="748" y="186" width="1" height="10"/><rect x="749" y="189" width="1" height="10"/><rect x="750" y="190" width="1" height="11"/><rect x="751" y="194" width="1" height="10"/><rect x="752" y="190" width="1" height="11"/><rect x="753" y="186" width="1" height="9"/><rect x="754" y="180" width="1" height="12"/><rect x="755" y="185" width="1" height="5"/><rect x="756" y="182" width="1" height="6"/><rect x="757" y="179" width="1" height="12"/><rect x="758" y="175" width="1" height="14"/><rect x="759" y="170" width="1" height="13"/><rect x="760" y="164" width="1" height="12"/><rect x="761" y="160" width="1" height="13"/><rect x="762" y="146" width="1" height="20"/><rect x="763" y="141" width="1" height="14"/><rect x="764" y="142" width="1" height="9"/><rect x="765" y="136" width="1" height="11"/><rect x="766" y="136" width="1" height="14"/><rect x="767" y="140" width="1" height="26"/><rect x="768" y="145" width="1" height="23"/><rect x="769" y="155" width="1" height="16"/><rect x="770" y="163" width="1" height="16"/><rect x="771" y="171" width="1" height="10"/><rect x="772" y="174" width="1" height="7"/><rect x="773" y="170" width="1" height="15"/><rect x="774" y="165" width="1" height="14"/><rect x="775" y="160" width="1" height="13"/><rect x="776" y="153" width="1" height="14"/><rect x="777" y="157" width="1" height="13"/><rect x="778" y="158" width="1" height="11"/><rect x="779" y="160" width="1" height="14"/><rect x="780" y="158" width="1" height="13"/><rect x="781" y="162" width="1" height="17"/><rect x="782" y="170" width="1" height="21"/><rect x="783" y="176" width="1" height="20"/><rect x="784" y="172" width="1" height="27"/><rect x="785" y="164" width="1" height="12"/><rect x="786" y="164" width="1" height="3"/><rect x="787" y="208" width="1" height="15"/><rect x="788" y="210" width="1" height="23"/><rect x="789" y="215" width="1" height="23"/><rect x="790" y="205" width="1" height="25"/><rect x="791" y="201" width="1" height="18"/><rect x="792" y="192" width="1" height="21"/><rect x="793" y="185" width="1" height="20"/><rect x="794" y="181" width="1" height="14"/><rect x="795" y="178" width="1" height="12"/><rect x="796" y="178" width="1" height="14"/><rect x="797" y="183" width="1" height="13"/><rect x="798" y="185" width="1" height="15"/><rect x="799" y="186" width="1" height="11"/><rect x="800" y="182" width="1" height="12"/><rect x="801" y="158" width="1" height="11"/><rect x="802" y="158" width="1" height="17"/><rect x="803" y="160" width="1" height="12"/><rect x="804" y="165" width="1" height="11"/><rect x="805" y="166" width="1" height="12"/><rect x="806" y="164" width="1" height="12"/><rect x="807" y="167" width="1" height="19"/><rect x="808" y="170" width="1" height="9"/><rect x="809" y="169" width="1" height="12"/><rect x="810" y="169" width="1" height="22"/><rect x="811" y="167" width="1" height="22"/><rect x="812" y="166" width="1" height="13"/><rect x="813" y="160" width="1" height="12"/><rect x="814" y="156" width="1" height="13"/><rect x="815" y="129" width="1" height="34"/><rect x="816" y="141" width="1" height="18"/><rect x="817" y="153" width="1" height="11"/><rect x="818" y="156" width="1" height="6"/><rect x="819" y="158" width="1" height="12"/><rect x="820" y="158" width="1" height="15"/><rect x="821" y="156" width="1" height="11"/><rect x="822" y="158" width="1" height="13"/><rect x="823" y="153" width="1" height="14"/><rect x="824" y="150" width="1" height="12"/><rect x="825" y="154" width="1" height="12"/><rect x="826" y="156" width="1" height="12"/><rect x="827" y="152" width="1" height="11"/><rect x="828" y="155" width="1" height="15"/><rect x="829" y="160" width="1" height="18"/><rect x="830" y="156" width="1" height="24"/><rect x="831" y="157" width="1" height="12"/><rect x="832" y="148" width="1" height="12"/><rect x="833" y="150" width="1" height="8"/><rect x="834" y="148" width="1" height="7"/><rect x="835" y="145" width="1" height="8"/><rect x="836" y="143" width="1" height="9"/><rect x="837" y="146" width="1" height="10"/><rect x="838" y="148" width="1" height="11"/><rect x="839" y="144" width="1" height="10"/><rect x="840" y="143" width="1" height="8"/><rect x="841" y="143" width="1" height="5"/><rect x="842" y="148" width="1" height="3"/><rect x="843" y="156" width="1" height="20"/><rect x="844" y="161" width="1" height="13"/><rect x="845" y="155" width="1" height="11"/><rect x="846" y="153" width="1" height="10"/><rect x="847" y="150" width="1" height="9"/><rect x="848" y="152" width="1" height="8"/><rect x="849" y="149" width="1" height="8"/><rect x="850" y="125" width="1" height="28"/><rect x="851" y="110" width="1" height="20"/><rect x="852" y="92" width="1" height="22"/><rect x="853" y="76" width="1" height="22"/><rect x="854" y="70" width="1" height="10"/><rect x="855" y="68" width="1" height="10"/><rect x="856" y="70" width="1" height="9"/><rect x="857" y="58" width="1" height="15"/><rect x="858" y="63" width="1" height="13"/><rect x="859" y="68" width="1" height="10"/><rect x="860" y="71" width="1" height="11"/><rect x="861" y="74" width="1" height="12"/><rect x="862" y="80" width="1" height="13"/><rect x="863" y="86" width="1" height="10"/><rect x="864" y="86" width="1" height="7"/><rect x="865" y="88" width="1" height="13"/><rect x="866" y="96" width="1" height="10"/><rect x="867" y="97" width="1" height="10"/><rect x="868" y="101" width="1" height="9"/><rect x="869" y="103" width="1" height="10"/><rect x="870" y="109" width="1" height="8"/><rect x="871" y="116" width="1" height="10"/><rect x="872" y="122" width="1" height="10"/><rect x="873" y="130" width="1" height="7"/><rect x="874" y="137" width="1" height="12"/><rect x="875" y="144" width="1" height="12"/><rect x="876" y="148" width="1" height="16"/><rect x="877" y="156" width="1" height="12"/><rect x="878" y="161" width="1" height="13"/><rect x="879" y="165" width="1" height="12"/><rect x="880" y="163" width="1" height="9"/><rect x="881" y="166" width="1" height="9"/><rect x="882" y="169" width="1" height="12"/><rect x="883" y="161" width="1" height="20"/><rect x="884" y="162" width="1" height="5"/><rect x="885" y="225" width="1" height="15"/><rect x="886" y="226" width="1" height="17"/><rect x="887" y="226" width="1" height="10"/><rect x="888" y="221" width="1" height="12"/><rect x="889" y="218" width="1" height="11"/><rect x="890" y="213" width="1" height="11"/><rect x="891" y="215" width="1" height="14"/><rect x="892" y="215" width="1" height="22"/><rect x="893" y="216" width="1" height="15"/><rect x="894" y="215" width="1" height="10"/><rect x="895" y="214" width="1" height="9"/><rect x="896" y="211" width="1" height="20"/><rect x="897" y="206" width="1" height="12"/><rect x="898" y="210" width="1" height="6"/><rect x="899" y="197" width="1" height="4"/><rect x="900" y="190" width="1" height="17"/><rect x="901" y="195" width="1" height="7"/><rect x="902" y="191" width="1" height="10"/><rect x="903" y="194" width="1" height="8"/><rect x="904" y="194" width="1" height="10"/><rect x="905" y="194" width="1" height="20"/><rect x="906" y="196" width="1" height="14"/><rect x="907" y="193" width="1" height="12"/><rect x="908" y="191" width="1" height="12"/><rect x="909" y="195" width="1" height="23"/><rect x="910" y="201" width="1" height="14"/><rect x="911" y="205" width="1" height="13"/><rect x="912" y="205" width="1" height="9"/><rect x="913" y="204" width="1" height="8"/><rect x="914" y="204" width="1" height="22"/><rect x="915" y="211" width="1" height="17"/><rect x="916" y="222" width="1" height="33"/><rect x="917" y="238" width="1" height="17"/><rect x="918" y="233" width="1" height="17"/><rect x="919" y="235" width="1" height="14"/><rect x="920" y="236" width="1" height="9"/><rect x="921" y="239" width="1" height="11"/><rect x="922" y="241" width="1" height="16"/><rect x="923" y="241" width="1" height="25"/><rect x="924" y="261" width="1" height="22"/><rect x="925" y="263" width="1" height="19"/><rect x="926" y="265" width="1" height="6"/><rect x="927" y="268" width="1" height="2"/></g><line x1="791.5" y1="236" x2="855" y2="51.5" stroke="#0000ff" stroke-width="2" shape-rendering="crispEdges"/><line x1="861" y1="53.5" x2="885.5" y2="181.5" stroke="#ff0000" stroke-width="2" shape-rendering="crispEdges"/><line x1="902.5" y1="235" x2="930" y2="340" stroke="#ff0000" stroke-width="1" shape-rendering="crispEdges"/><g fill="#000" shape-rendering="crispEdges"><rect x="983" y="0" width="1" height="583"/><rect x="0" y="583" width="983" height="1"/><rect x="0" y="596" width="983" height="1"/><rect x="29" y="583" width="1" height="13"/><rect x="99" y="583" width="1" height="13"/><rect x="155" y="583" width="1" height="13"/><rect x="212" y="583" width="1" height="13"/><rect x="281" y="583" width="1" height="13"/><rect x="351" y="583" width="1" height="13"/><rect x="422" y="583" width="1" height="13"/><rect x="436" y="583" width="1" height="13"/><rect x="478" y="583" width="1" height="13"/><rect x="548" y="583" width="1" height="13"/><rect x="619" y="583" width="1" height="13"/><rect x="675" y="583" width="1" height="13"/><rect x="731" y="583" width="1" height="13"/><rect x="745" y="583" width="1" height="13"/><rect x="801" y="583" width="1" height="13"/><rect x="871" y="583" width="1" height="13"/><rect x="155" y="597" width="1" height="11"/><rect x="436" y="597" width="1" height="11"/><rect x="731" y="597" width="1" height="11"/><rect x="984" y="0" width="3" height="1"/><rect x="984" y="3" width="6" height="1"/><rect x="984" y="6" width="3" height="1"/><rect x="984" y="9" width="3" height="1"/><rect x="984" y="12" width="3" height="1"/><rect x="984" y="15" width="3" height="1"/><rect x="984" y="18" width="6" height="1"/><rect x="984" y="21" width="3" height="1"/><rect x="984" y="24" width="3" height="1"/><rect x="984" y="27" width="3" height="1"/><rect x="984" y="30" width="3" height="1"/><rect x="984" y="33" width="6" height="1"/><rect x="984" y="37" width="3" height="1"/><rect x="984" y="40" width="3" height="1"/><rect x="984" y="43" width="3" height="1"/><rect x="984" y="46" width="3" height="1"/><rect x="984" y="49" width="6" height="1"/><rect x="984" y="52" width="3" height="1"/><rect x="984" y="55" width="3" height="1"/><rect x="984" y="58" width="3" height="1"/><rect x="984" y="61" width="3" height="1"/><rect x="984" y="64" width="6" height="1"/><rect x="984" y="68" width="3" height="1"/><rect x="984" y="71" width="3" height="1"/><rect x="984" y="74" width="3" height="1"/><rect x="984" y="77" width="3" height="1"/><rect x="984" y="80" width="6" height="1"/><rect x="984" y="83" width="3" height="1"/><rect x="984" y="86" width="3" height="1"/><rect x="984" y="90" width="3" height="1"/><rect x="984" y="93" width="3" height="1"/><rect x="984" y="96" width="6" height="1"/><rect x="984" y="99" width="3" height="1"/><rect x="984" y="102" width="3" height="1"/><rect x="984" y="105" width="3" height="1"/><rect x="984" y="108" width="3" height="1"/><rect x="984" y="112" width="6" height="1"/><rect x="984" y="115" width="3" height="1"/><rect x="984" y="118" width="3" height="1"/><rect x="984" y="121" width="3" height="1"/><rect x="984" y="124" width="3" height="1"/><rect x="984" y="127" width="6" height="1"/><rect x="984" y="130" width="3" height="1"/><rect x="984" y="134" width="3" height="1"/><rect x="984" y="137" width="3" height="1"/><rect x="984" y="140" width="3" height="1"/><rect x="984" y="143" width="6" height="1"/><rect x="984" y="146" width="3" height="1"/><rect x="984" y="150" width="3" height="1"/><rect x="984" y="153" width="3" height="1"/><rect x="984" y="156" width="3" height="1"/><rect x="984" y="159" width="6" height="1"/><rect x="984" y="162" width="3" height="1"/><rect x="984" y="165" width="3" height="1"/><rect x="984" y="169" width="3" height="1"/><rect x="984" y="172" width="3" height="1"/><rect x="984" y="175" width="6" height="1"/><rect x="984" y="178" width="3" height="1"/><rect x="984" y="181" width="3" height="1"/><rect x="984" y="185" width="3" height="1"/><rect x="984" y="188" width="3" height="1"/><rect x="984" y="191" width="6" height="1"/><rect x="984" y="194" width="3" height="1"/><rect x="984" y="198" width="3" height="1"/><rect x="984" y="201" width="3" height="1"/><rect x="984" y="204" width="3" height="1"/><rect x="984" y="207" width="6" height="1"/><rect x="984" y="210" width="3" height="1"/><rect x="984" y="214" width="3" height="1"/><rect x="984" y="217" width="3" height="1"/><rect x="984" y="220" width="3" height="1"/><rect x="984" y="223" width="6" height="1"/><rect x="984" y="227" width="3" height="1"/><rect x="984" y="230" width="3" height="1"/><rect x="984" y="233" width="3" height="1"/><rect x="984" y="236" width="3" height="1"/><rect x="984" y="240" width="6" height="1"/><rect x="984" y="243" width="3" height="1"/><rect x="984" y="246" width="3" height="1"/><rect x="984" y="249" width="3" height="1"/><rect x="984" y="253" width="3" height="1"/><rect x="984" y="256" width="6" height="1"/><rect x="984" y="259" width="3" height="1"/><rect x="984" y="262" width="3" height="1"/><rect x="984" y="266" width="3" height="1"/><rect x="984" y="269" width="3" height="1"/><rect x="984" y="272" width="6" height="1"/><rect x="984" y="276" width="3" height="1"/><rect x="984" y="279" width="3" height="1"/><rect x="984" y="282" width="3" height="1"/><rect x="984" y="285" width="3" height="1"/><rect x="984" y="289" width="6" height="1"/><rect x="984" y="292" width="3" height="1"/><rect x="984" y="295" width="3" height="1"/><rect x="984" y="299" width="3" height="1"/><rect x="984" y="302" width="3" height="1"/><rect x="984" y="305" width="6" height="1"/><rect x="984" y="309" width="3" height="1"/><rect x="984" y="312" width="3" height="1"/><rect x="984" y="315" width="3" height="1"/><rect x="984" y="318" width="3" height="1"/><rect x="984" y="322" width="6" height="1"/><rect x="984" y="325" width="3" height="1"/><rect x="984" y="328" width="3" height="1"/><rect x="984" y="332" width="3" height="1"/><rect x="984" y="335" width="3" height="1"/><rect x="984" y="338" width="6" height="1"/><rect x="984" y="342" width="3" height="1"/><rect x="984" y="345" width="3" height="1"/><rect x="984" y="348" width="3" height="1"/><rect x="984" y="352" width="3" height="1"/><rect x="984" y="355" width="6" height="1"/><rect x="984" y="358" width="3" height="1"/><rect x="984" y="362" width="3" height="1"/><rect x="984" y="365" width="3" height="1"/><rect x="984" y="369" width="3" height="1"/><rect x="984" y="372" width="6" height="1"/><rect x="984" y="375" width="3" height="1"/><rect x="984" y="379" width="3" height="1"/><rect x="984" y="382" width="3" height="1"/><rect x="984" y="385" width="3" height="1"/><rect x="984" y="389" width="6" height="1"/><rect x="984" y="392" width="3" height="1"/><rect x="984" y="395" width="3" height="1"/><rect x="984" y="399" width="3" height="1"/><rect x="984" y="402" width="3" height="1"/><rect x="984" y="406" width="6" height="1"/><rect x="984" y="409" width="3" height="1"/><rect x="984" y="412" width="3" height="1"/><rect x="984" y="416" width="3" height="1"/><rect x="984" y="419" width="3" height="1"/><rect x="984" y="423" width="6" height="1"/><rect x="984" y="426" width="3" height="1"/><rect x="984" y="429" width="3" height="1"/><rect x="984" y="433" width="3" height="1"/><rect x="984" y="436" width="3" height="1"/><rect x="984" y="440" width="6" height="1"/><rect x="984" y="443" width="3" height="1"/><rect x="984" y="446" width="3" height="1"/><rect x="984" y="450" width="3" height="1"/><rect x="984" y="453" width="3" height="1"/><rect x="984" y="457" width="6" height="1"/><rect x="984" y="460" width="3" height="1"/><rect x="984" y="464" width="3" height="1"/><rect x="984" y="467" width="3" height="1"/><rect x="984" y="471" width="3" height="1"/><rect x="984" y="474" width="6" height="1"/><rect x="984" y="477" width="3" height="1"/><rect x="984" y="481" width="3" height="1"/><rect x="984" y="484" width="3" height="1"/><rect x="984" y="488" width="3" height="1"/><rect x="984" y="491" width="6" height="1"/><rect x="984" y="495" width="3" height="1"/><rect x="984" y="498" width="3" height="1"/><rect x="984" y="502" width="3" height="1"/><rect x="984" y="505" width="3" height="1"/><rect x="984" y="509" width="6" height="1"/><rect x="984" y="512" width="3" height="1"/><rect x="984" y="516" width="3" height="1"/><rect x="984" y="519" width="3" height="1"/><rect x="984" y="522" width="3" height="1"/><rect x="984" y="526" width="6" height="1"/><rect x="984" y="529" width="3" height="1"/><rect x="984" y="533" width="3" height="1"/><rect x="984" y="536" width="3" height="1"/><rect x="984" y="540" width="3" height="1"/><rect x="984" y="543" width="6" height="1"/><rect x="984" y="547" width="3" height="1"/><rect x="984" y="550" width="3" height="1"/><rect x="984" y="554" width="3" height="1"/><rect x="984" y="557" width="3" height="1"/><rect x="984" y="561" width="6" height="1"/><rect x="984" y="565" width="3" height="1"/><rect x="984" y="568" width="3" height="1"/><rect x="984" y="572" width="3" height="1"/><rect x="984" y="575" width="3" height="1"/><rect x="984" y="579" width="6" height="1"/><rect x="984" y="582" width="3" height="1"/></g><g opacity="0.999"><g font-family="Liberation Sans, sans-serif" font-size="10" fill="#000" stroke="#000" stroke-width="0.15"><text x="993.8" y="23" font-size="9.6" letter-spacing="0.1">13300</text><text x="993.8" y="38" font-size="9.6" letter-spacing="0.1">13250</text><text x="993.8" y="54" font-size="9.6" letter-spacing="0.1">13200</text><text x="993.8" y="69" font-size="9.6" letter-spacing="0.1">13150</text><text x="993.8" y="85" font-size="9.6" letter-spacing="0.1">13100</text><text x="993.8" y="101" font-size="9.6" letter-spacing="0.1">13050</text><text x="993.8" y="117" font-size="9.6" letter-spacing="0.1">13000</text><text x="993.8" y="132" font-size="9.6" letter-spacing="0.1">12950</text><text x="993.8" y="148" font-size="9.6" letter-spacing="0.1">12900</text><text x="993.8" y="164" font-size="9.6" letter-spacing="0.1">12850</text><text x="993.8" y="180" font-size="9.6" letter-spacing="0.1">12800</text><text x="993.8" y="196" font-size="9.6" letter-spacing="0.1">12750</text><text x="993.8" y="212" font-size="9.6" letter-spacing="0.1">12700</text><text x="993.8" y="228" font-size="9.6" letter-spacing="0.1">12650</text><text x="993.8" y="245" font-size="9.6" letter-spacing="0.1">12600</text><text x="993.8" y="261" font-size="9.6" letter-spacing="0.1">12550</text><text x="993.8" y="277" font-size="9.6" letter-spacing="0.1">12500</text><text x="993.8" y="294" font-size="9.6" letter-spacing="0.1">12450</text><text x="993.8" y="310" font-size="9.6" letter-spacing="0.1">12400</text><text x="993.8" y="327" font-size="9.6" letter-spacing="0.1">12350</text><text x="993.8" y="343" font-size="9.6" letter-spacing="0.1">12300</text><text x="993.8" y="360" font-size="9.6" letter-spacing="0.1">12250</text><text x="993.8" y="377" font-size="9.6" letter-spacing="0.1">12200</text><text x="993.8" y="394" font-size="9.6" letter-spacing="0.1">12150</text><text x="993.8" y="411" font-size="9.6" letter-spacing="0.1">12100</text><text x="993.8" y="428" font-size="9.6" letter-spacing="0.1">12050</text><text x="993.8" y="445" font-size="9.6" letter-spacing="0.1">12000</text><text x="993.8" y="462" font-size="9.6" letter-spacing="0.1">11950</text><text x="993.8" y="479" font-size="9.6" letter-spacing="0.1">11900</text><text x="993.8" y="496" font-size="9.6" letter-spacing="0.1">11850</text><text x="993.8" y="514" font-size="9.6" letter-spacing="0.1">11800</text><text x="993.8" y="531" font-size="9.6" letter-spacing="0.1">11750</text><text x="993.8" y="548" font-size="9.6" letter-spacing="0.1">11700</text><text x="993.8" y="566" font-size="9.6" letter-spacing="0.1">11650</text><text x="31" y="593" letter-spacing="-0.2">19</text><text x="101" y="593" letter-spacing="-0.2">26</text><text x="157" y="593" letter-spacing="-0.2">3</text><text x="214" y="593" letter-spacing="-0.2">9</text><text x="283" y="593" letter-spacing="-0.2">16</text><text x="353" y="593" letter-spacing="-0.2">23</text><text x="424" y="593" letter-spacing="-0.2">30</text><text x="480" y="593" letter-spacing="-0.2">7</text><text x="550" y="593" letter-spacing="-0.2">14</text><text x="621" y="593" letter-spacing="-0.2">22</text><text x="677" y="593" letter-spacing="-0.2">28</text><text x="747" y="593" letter-spacing="-0.2">4</text><text x="803" y="593" letter-spacing="-0.2">11</text><text x="873" y="593" letter-spacing="-0.2">18</text><text x="157" y="607">April</text><text x="438" y="607">May</text><text x="733" y="607">June</text><text x="353" y="12" letter-spacing="0.03" id="title">DAX30MIN (12,511.91, 12,511.91, 12,511.91, 12,511.91, +0.0)</text></g><g font-family="Liberation Sans, sans-serif" font-size="12" font-weight="bold" fill="#0000ff" letter-spacing="0.08" id="blue"><text x="655" y="48">DERIVATIVES EXPIRATION</text><text x="655" y="63">AND WINDOWDRESSING</text><text x="655" y="77">RALLY RELATED.</text></g><g font-family="Liberation Serif, serif" font-size="13" font-weight="bold" fill="#ff0000"><text x="877" y="106" letter-spacing="0.5" id="ooops">Ooops</text><text x="918.5" y="106" letter-spacing="-1.4" id="bang">!!!</text></g><g fill="#ff0000" shape-rendering="crispEdges"><rect x="934" y="300" width="4" height="1"/><rect x="933" y="301" width="6" height="1"/><rect x="933" y="302" width="2" height="1"/><rect x="936" y="302" width="3" height="1"/><rect x="936" y="303" width="3" height="1"/><rect x="934" y="304" width="4" height="2"/><rect x="934" y="306" width="3" height="4"/></g></g></svg>
</body></html>
